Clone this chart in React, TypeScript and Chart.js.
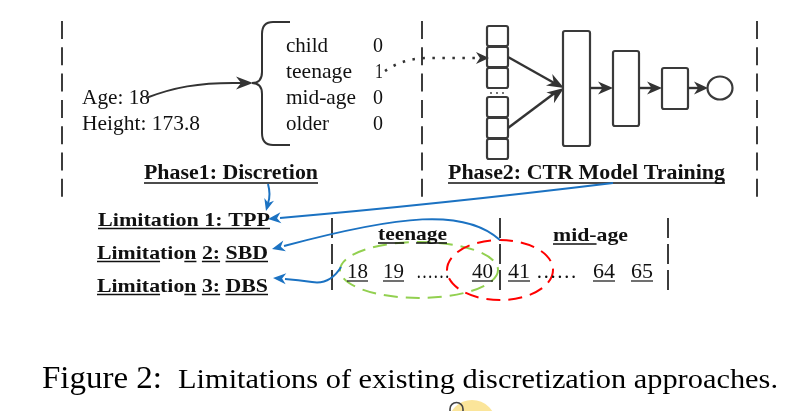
import React, { useEffect, useRef } from "react";
import { Chart, registerables } from "chart.js";

Chart.register(...registerables);

// ---- content ----
const rawFeatures = ["Age: 18", "Height: 173.8"];
const categories = ["child", "teenage", "mid-age", "older"];
const oneHot = [0, 1, 0, 0];
const phases = ["Phase1: Discretion", "Phase2: CTR Model Training"];
const limitations = ["Limitation 1: TPP", "Limitation 2: SBD", "Limitation 3: DBS"];
const buckets = ["teenage", "mid-age"];
const teenAges = ["18", "19", "40"];
const midAges = ["41", "64", "65"];
const captionHead = "Figure 2:";
const captionBody = "Limitations of existing discretization approaches.";

const SERIF = '"Liberation Serif", "Times New Roman", serif';

const diagramPlugin = {
  id: "diagram",
  afterDraw(chart: any) {
    const ctx: CanvasRenderingContext2D = chart.ctx;
    const xs = chart.scales.x;
    const ys = chart.scales.y;
    const X = (v: number) => xs.getPixelForValue(v);
    const Y = (v: number) => ys.getPixelForValue(v);

    const text = (s: string, x: number, y: number, size: number, o: any = {}) => {
      ctx.save();
      ctx.font = `${o.bold ? "bold " : ""}${size}px ${SERIF}`;
      ctx.fillStyle = o.color || "#111";
      ctx.textBaseline = "alphabetic";
      const m = ctx.measureText(s).width;
      const sx = o.w ? o.w / m : 1;
      ctx.translate(X(x), Y(y));
      ctx.scale(sx, 1);
      ctx.fillText(s, 0, 0);
      ctx.restore();
      ctx.save();
      ctx.font = `${o.bold ? "bold " : ""}${size}px ${SERIF}`;
      if (o.ul) {
        const segs = o.ul === true ? [[0, s.length]] : o.ul;
        ctx.strokeStyle = o.color || "#111";
        ctx.lineWidth = o.ulw || 1.5;
        for (const [a, b] of segs) {
          const x0 = ctx.measureText(s.slice(0, a)).width * sx;
          const x1 = ctx.measureText(s.slice(0, b)).width * sx;
          ctx.beginPath();
          ctx.moveTo(X(x) + x0, Y(y + (o.ulOff || 3)));
          ctx.lineTo(X(x) + x1, Y(y + (o.ulOff || 3)));
          ctx.stroke();
        }
      }
      ctx.restore();
    };

    const head = (tx: number, ty: number, ang: number, len: number, wid: number, color: string) => {
      ctx.save();
      ctx.translate(X(tx), Y(ty));
      ctx.rotate(ang);
      ctx.fillStyle = color;
      ctx.beginPath();
      ctx.moveTo(0, 0);
      ctx.lineTo(-len, -wid / 2);
      ctx.lineTo(-len * 0.7, 0);
      ctx.lineTo(-len, wid / 2);
      ctx.closePath();
      ctx.fill();
      ctx.restore();
    };

    const vdash = (x: number, y0: number, y1: number, dash: number[]) => {
      ctx.save();
      ctx.strokeStyle = "#3c3c3c";
      ctx.lineWidth = 2;
      ctx.setLineDash(dash);
      ctx.beginPath();
      ctx.moveTo(X(x), Y(y0));
      ctx.lineTo(X(x), Y(y1));
      ctx.stroke();
      ctx.restore();
    };

    const rect = (x0: number, y0: number, x1: number, y1: number) => {
      ctx.save();
      ctx.strokeStyle = "#3a3a3a";
      ctx.lineWidth = 2.2;
      ctx.beginPath();
      (ctx as any).roundRect(X(x0), Y(y0), X(x1) - X(x0), Y(y1) - Y(y0), 2);
      ctx.stroke();
      ctx.restore();
    };

    const line = (pts: number[][], color: string, lw: number) => {
      ctx.save();
      ctx.strokeStyle = color;
      ctx.lineWidth = lw;
      ctx.beginPath();
      ctx.moveTo(X(pts[0][0]), Y(pts[0][1]));
      for (let i = 1; i < pts.length; i++) ctx.lineTo(X(pts[i][0]), Y(pts[i][1]));
      ctx.stroke();
      ctx.restore();
    };

    // ---- section separators ----
    vdash(62, 21, 197, [18, 8.3]);
    vdash(422, 21, 197, [18, 8.3]);
    vdash(757, 21, 197, [18, 8.3]);

    // ---- raw features ----
    text(rawFeatures[0], 82, 104, 21, { w: 68 });
    text(rawFeatures[1], 82, 130, 21, { w: 118 });

    // curved arrow to brace
    ctx.save();
    ctx.strokeStyle = "#333";
    ctx.lineWidth = 2;
    ctx.beginPath();
    ctx.moveTo(X(146), Y(98));
    ctx.bezierCurveTo(X(172), Y(88), X(198), Y(82), X(242), Y(83));
    ctx.stroke();
    ctx.restore();
    head(253, 83, 0, 17, 13, "#333");

    // brace
    ctx.save();
    ctx.strokeStyle = "#333";
    ctx.lineWidth = 2;
    ctx.beginPath();
    ctx.moveTo(X(290), Y(22));
    ctx.lineTo(X(273), Y(22));
    ctx.quadraticCurveTo(X(262), Y(22), X(262), Y(34));
    ctx.lineTo(X(262), Y(72));
    ctx.quadraticCurveTo(X(262), Y(83), X(252), Y(83));
    ctx.quadraticCurveTo(X(262), Y(83), X(262), Y(94));
    ctx.lineTo(X(262), Y(133));
    ctx.quadraticCurveTo(X(262), Y(145), X(273), Y(145));
    ctx.lineTo(X(290), Y(145));
    ctx.stroke();
    ctx.restore();

    // categories & one-hot values
    const catW = [42, 66, 70, 43];
    const rowY = [52, 78, 104, 130];
    categories.forEach((c, i) => {
      text(c, 286, rowY[i], 21, { w: catW[i] });
      text(String(oneHot[i]), oneHot[i] ? 375 : 373, rowY[i], 21, { w: oneHot[i] ? 8 : 10 });
    });

    // dotted link from the active one-hot value
    ctx.save();
    ctx.strokeStyle = "#333";
    ctx.lineWidth = 2.5;
    ctx.setLineDash([2.5, 7.5]);
    ctx.beginPath();
    ctx.moveTo(X(385), Y(71));
    ctx.quadraticCurveTo(X(402), Y(59), X(425), Y(58));
    ctx.lineTo(X(478), Y(58));
    ctx.stroke();
    ctx.restore();
    head(489, 58, 0, 13, 12, "#333");

    // ---- network ----
    const boxTops = [26, 47, 68, 97, 118, 139];
    boxTops.forEach((t) => rect(487, t, 508, t + 20));
    ctx.save();
    ctx.fillStyle = "#333";
    [491, 497, 503].forEach((dx) => {
      ctx.beginPath();
      ctx.arc(X(dx), Y(93), 0.9, 0, Math.PI * 2);
      ctx.fill();
    });
    ctx.restore();

    line([[508, 57], [556, 84]], "#333", 2.4);
    line([[508, 128], [556, 92]], "#333", 2.4);
    head(564, 88, Math.atan2(88 - 57, 564 - 508), 17, 13, "#333");
    head(564, 88, Math.atan2(88 - 128, 564 - 508), 17, 13, "#333");

    rect(563, 31, 590, 146);
    rect(613, 51, 639, 126);
    rect(662, 68, 688, 109);
    line([[590, 88], [604, 88]], "#333", 2.4);
    head(613, 88, 0, 15, 13, "#333");
    line([[639, 88], [653, 88]], "#333", 2.4);
    head(662, 88, 0, 15, 13, "#333");
    line([[688, 88], [700, 88]], "#333", 2.4);
    head(708, 88, 0, 14, 13, "#333");
    ctx.save();
    ctx.strokeStyle = "#3a3a3a";
    ctx.lineWidth = 2.2;
    ctx.beginPath();
    ctx.ellipse(X(720), Y(88), 12.5, 11.5, 0, 0, Math.PI * 2);
    ctx.stroke();
    ctx.restore();

    // ---- phase labels ----
    text(phases[0], 144, 179, 20, { bold: true, w: 174, ul: true, ulOff: 4 });
    text(phases[1], 448, 179, 20, { bold: true, w: 277, ul: true, ulOff: 4 });

    // ---- bucket boundaries ----
    vdash(332, 218, 290, [20, 6]);
    vdash(500, 218, 290, [20, 6]);
    vdash(668, 218, 290, [20, 6]);

    // ellipses
    ctx.save();
    ctx.lineWidth = 2;
    ctx.setLineDash([14, 8]);
    ctx.strokeStyle = "#92D050";
    ctx.beginPath();
    ctx.ellipse(X(419), Y(270), 79, 28, 0, 0, Math.PI * 2);
    ctx.stroke();
    ctx.strokeStyle = "#FF0000";
    ctx.beginPath();
    ctx.ellipse(X(500), Y(270), 53, 30, 0, 0, Math.PI * 2);
    ctx.stroke();
    ctx.restore();

    // bucket headers
    text(buckets[0], 378, 240, 19, { bold: true, w: 69, ul: [[0, 3], [4, 5], [5, 7]], ulOff: 3 });
    text(buckets[1], 553, 241, 19, { bold: true, w: 75, ul: [[0, 4]], ulOff: 3 });

    // bucket values
    const teenX = [347, 383, 472];
    const midX = [508, 593, 631];
    teenAges.forEach((a, i) => text(a, teenX[i], 278, 20, { w: 21, ul: true, ulOff: 3, ulw: 1.2 }));
    midAges.forEach((a, i) => text(a, midX[i], 278, 20, { w: 22, ul: true, ulOff: 3, ulw: 1.2 }));
    text("……", 416, 278, 20, { w: 34 });
    text("……", 536, 278, 20, { w: 41 });

    // ---- limitations ----
    text(limitations[0], 98, 226, 19, { bold: true, w: 172, ul: true, ulOff: 2.5 });
    text(limitations[1], 97, 259, 19, { bold: true, w: 171, ul: [[0, 6], [9, 10], [11, 13], [14, 17]], ulOff: 2.5 });
    text(limitations[2], 97, 292, 19, { bold: true, w: 171, ul: [[0, 6], [9, 10], [11, 13], [14, 17]], ulOff: 2.5 });

    // ---- blue pointers ----
    const BLUE = "#1B72C2";
    ctx.save();
    ctx.strokeStyle = BLUE;
    ctx.lineWidth = 2;
    ctx.beginPath();
    ctx.moveTo(X(268), Y(184));
    ctx.quadraticCurveTo(X(271), Y(195), X(268), Y(203));
    ctx.stroke();
    ctx.beginPath();
    ctx.moveTo(X(613), Y(183));
    ctx.quadraticCurveTo(X(440), Y(204), X(280), Y(218));
    ctx.stroke();
    ctx.beginPath();
    ctx.moveTo(X(500), Y(240));
    ctx.bezierCurveTo(X(465), Y(208), X(400), Y(215), X(284), Y(246));
    ctx.stroke();
    ctx.beginPath();
    ctx.moveTo(X(341), Y(267));
    ctx.quadraticCurveTo(X(330), Y(285), X(312), Y(282));
    ctx.quadraticCurveTo(X(298), Y(280), X(285), Y(279));
    ctx.stroke();
    ctx.restore();
    head(266, 211, Math.atan2(211 - 200, 266 - 269), 12, 10, BLUE);
    head(268, 219, Math.atan2(219 - 217, 268 - 290), 13, 11, BLUE);
    head(272, 249, Math.atan2(249 - 245, 272 - 288), 13, 11, BLUE);
    head(273, 278, Math.atan2(278 - 279, 273 - 290), 13, 11, BLUE);

    // ---- caption ----
    text(captionHead, 42, 388, 32, { w: 120, color: "#000" });
    text(captionBody, 178, 388, 28, { w: 600, color: "#000" });

    // cursor highlight at the bottom edge
    ctx.save();
    ctx.fillStyle = "rgba(250,220,120,0.75)";
    ctx.beginPath();
    ctx.arc(X(472), Y(424), 24, 0, Math.PI * 2);
    ctx.fill();
    ctx.strokeStyle = "#444";
    ctx.lineWidth = 1.6;
    ctx.beginPath();
    ctx.moveTo(X(450), Y(412));
    ctx.lineTo(X(450), Y(409));
    ctx.arc(X(456.5), Y(409), 6.5, Math.PI, Math.PI * 2);
    ctx.lineTo(X(463), Y(412));
    ctx.stroke();
    ctx.restore();
  },
};

export default function App() {
  const ref = useRef<HTMLCanvasElement | null>(null);
  useEffect(() => {
    if (!ref.current) return;
    const chart = new Chart(ref.current, {
      type: "scatter",
      data: { datasets: [{ data: [], pointRadius: 0 }] },
      options: {
        animation: false,
        responsive: false,
        maintainAspectRatio: false,
        layout: { padding: 0 },
        events: [],
        plugins: { legend: { display: false }, tooltip: { enabled: false }, title: { display: false } },
        scales: {
          x: { type: "linear", min: 0, max: 802, display: false },
          y: { type: "linear", min: 0, max: 411, reverse: true, display: false },
        },
      },
      plugins: [diagramPlugin],
    } as any);
    return () => chart.destroy();
  }, []);
  return (
    <canvas
      ref={ref}
      width={802}
      height={411}
      style={{ position: "absolute", left: 0, top: 0, background: "#fff" }}
    />
  );
}
